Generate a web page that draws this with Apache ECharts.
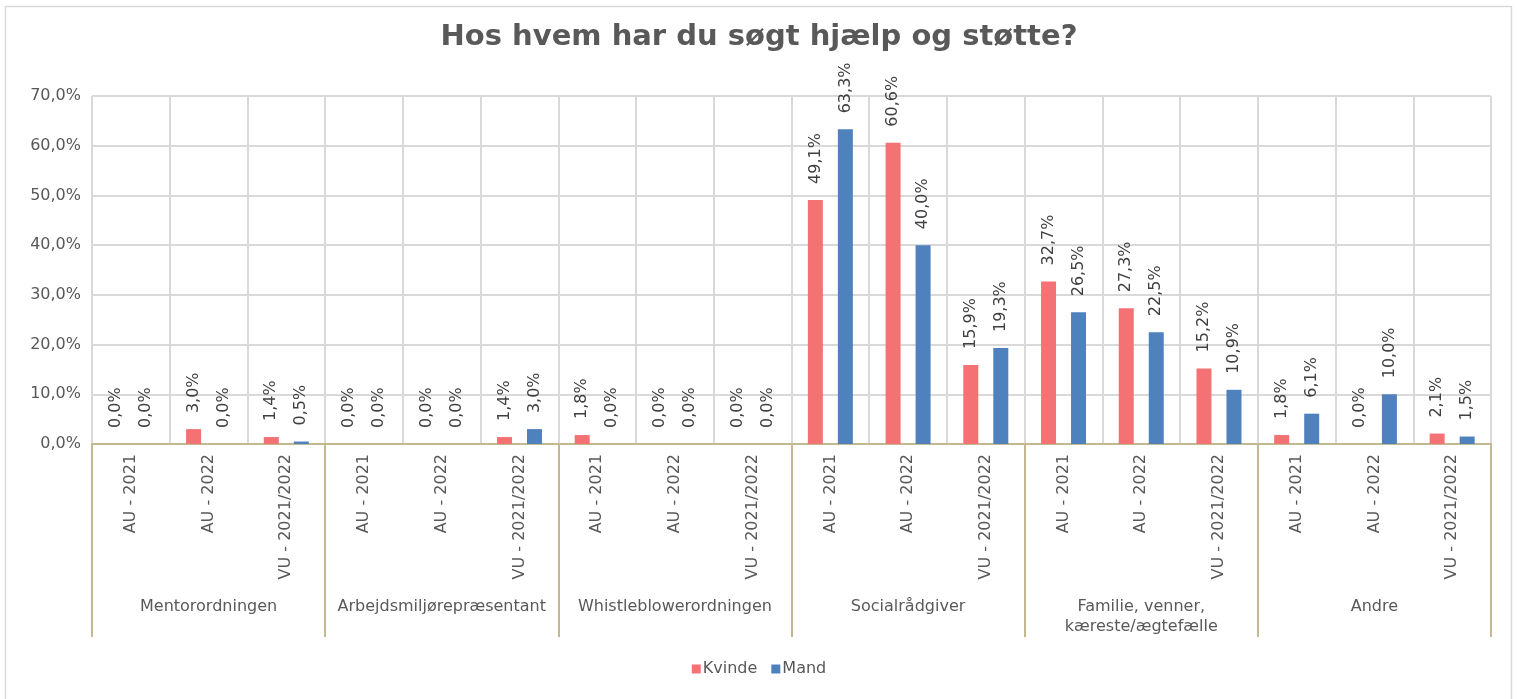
<!DOCTYPE html>
<html>
<head>
<meta charset="utf-8">
<title>Hos hvem har du søgt hjælp og støtte?</title>
<script src="https://cdn.jsdelivr.net/npm/echarts@6/dist/echarts.min.js"></script>
<style>
  html, body { margin: 0; padding: 0; background: #fff; }
  #chart { width: 1518px; height: 699px; }
</style>
</head>
<body>
<div id="chart"></div>
<script>
// kategorier (to niveauer)
const groups = [
  "Mentorordningen",
  "Arbejdsmiljørepræsentant",
  "Whistleblowerordningen",
  "Socialrådgiver",
  "Familie, venner,\nkæreste/ægtefælle",
  "Andre"
];
const periods = ["AU - 2021", "AU - 2022", "VU - 2021/2022"];
const subLabels = groups.flatMap(() => periods);

// andele i procent
const kvinde = [0.0, 3.0, 1.4, 0.0, 0.0, 1.4, 1.8, 0.0, 0.0, 49.1, 60.6, 15.9, 32.7, 27.3, 15.2, 1.8, 0.0, 2.1];
const mand = [0.0, 0.0, 0.5, 0.0, 0.0, 3.0, 0.0, 0.0, 0.0, 63.3, 40.0, 19.3, 26.5, 22.5, 10.9, 6.1, 10.0, 1.5];

const font = "DejaVu Sans, Verdana, sans-serif";
const tan = "#c3b88f";
const fmt = (v) => v.toFixed(1).replace(".", ",") + "%";

const chart = echarts.init(document.getElementById("chart"), null, { renderer: "canvas" });

const barLabel = {
  show: true,
  position: "top",
  rotate: 90,
  align: "left",
  verticalAlign: "middle",
  distance: 16,
  color: "#404040",
  fontFamily: font,
  fontSize: 16,
  formatter: (p) => fmt(p.value)
};

chart.setOption({
  animation: false,
  textStyle: { fontFamily: font },
  title: {
    text: "Hos hvem har du søgt hjælp og støtte?",
    left: "center",
    top: 18,
    textStyle: { fontFamily: font, fontSize: 29, fontWeight: "bold", color: "#595959" }
  },
  graphic: [{
    type: "rect",
    shape: { x: 5.5, y: 6.5, width: 1506, height: 720 },
    style: { fill: "none", stroke: "#d9d9d9", lineWidth: 1.5 },
    silent: true
  }],
  legend: {
    data: ["Kvinde", "Mand"],
    bottom: 17,
    left: "center",
    icon: "rect",
    itemWidth: 9,
    itemHeight: 9,
    itemGap: 14,
    textStyle: { fontFamily: font, fontSize: 16, color: "#595959", padding: [0, 0, 0, -3] }
  },
  grid: { left: 92, right: 27, top: 96, bottom: 255, containLabel: false },
  xAxis: [
    {
      type: "category",
      data: subLabels,
      axisLine: { lineStyle: { color: tan, width: 2 } },
      axisTick: { show: false },
      splitLine: { show: true, lineStyle: { color: "#d9d9d9", width: 2 } },
      axisLabel: {
        interval: 0,
        rotate: 90,
        margin: 10,
        fontFamily: font,
        fontSize: 16,
        color: "#595959"
      }
    },
    {
      type: "category",
      data: groups,
      position: "bottom",
      axisLine: { show: false },
      axisTick: { show: true, length: 193, lineStyle: { color: tan, width: 2 } },
      splitLine: { show: false },
      axisLabel: {
        interval: 0,
        margin: 153,
        fontFamily: font,
        fontSize: 16,
        lineHeight: 20,
        color: "#595959"
      }
    }
  ],
  yAxis: {
    type: "value",
    min: 0,
    max: 70,
    interval: 10,
    axisLine: { show: false },
    axisTick: { show: false },
    splitLine: { lineStyle: { color: "#d9d9d9", width: 2 } },
    axisLabel: {
      margin: 11,
      fontFamily: font,
      fontSize: 16,
      color: "#595959",
      formatter: (v) => fmt(v)
    }
  },
  series: [
    {
      name: "Kvinde",
      type: "bar",
      xAxisIndex: 0,
      data: kvinde,
      barWidth: 15,
      barGap: "100%",
      itemStyle: { color: "#f47174" },
      label: barLabel
    },
    {
      name: "Mand",
      type: "bar",
      xAxisIndex: 0,
      data: mand,
      barWidth: 15,
      barGap: "100%",
      itemStyle: { color: "#4f81bd" },
      label: barLabel
    }
  ]
});

window.addEventListener("resize", () => chart.resize());
</script>
</body>
</html>
